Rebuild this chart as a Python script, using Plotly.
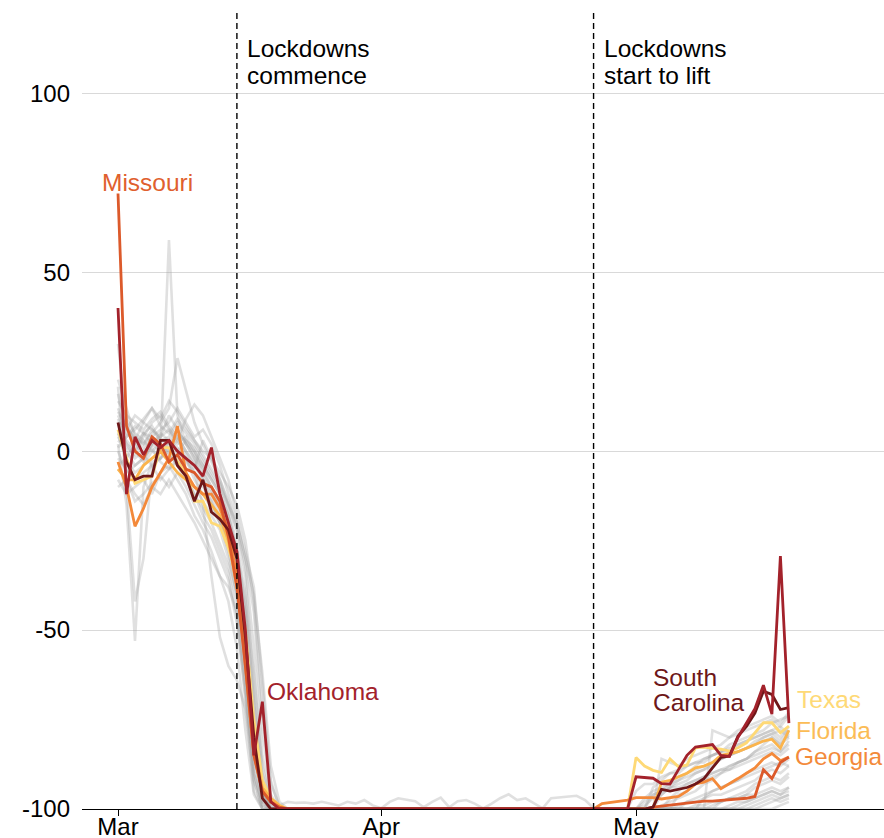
import pandas as pd
import plotly.graph_objects as go

start_date = "2020-03-01"
n_days = 80

tick_dates = ["2020-03-01", "2020-04-01", "2020-05-01"]
tick_labels = ["Mar", "Apr", "May"]
y_ticks = [-100, -50, 0, 50, 100]
y_tick_labels = ["-100", "-50", "0", "50", "100"]

event_dates = ["2020-03-15", "2020-04-26"]
event_labels = [["Lockdowns", "commence"], ["Lockdowns", "start to lift"]]

# ---------------- highlighted states (d0 .. d79, rows of 10 days) ----------------
missouri = [
    72, 7, 0, -2, 4, 2, -3, -1, -5, -6,
    -9, -10, -14, -24, -38, -60, -85, -95, -98, -99.5,
    -100, -100, -100, -100, -100, -100, -100, -100, -100, -100,
    -100, -100, -100, -100, -100, -100, -100, -100, -100, -100,
    -100, -100, -100, -100, -100, -100, -100, -100, -100, -100,
    -100, -100, -100, -100, -100, -100, -100, -100, -100, -100,
    -100, -100, -100, -99.5, -99.2, -99, -98.8, -98.5, -98, -97.8,
    -97.8, -97.6, -97.5, -97.2, -97, -96.5, -89, -91.5, -87, -85.5,
]
oklahoma = [
    40, -12, 4, -1, 3, 1, 3, 0, -2, -4,
    -7, 1, -12, -20, -28, -50, -85, -70, -98, -100,
    -100, -100, -100, -100, -100, -100, -100, -100, -100, -100,
    -100, -100, -100, -100, -100, -100, -100, -100, -100, -100,
    -100, -100, -100, -100, -100, -100, -100, -100, -100, -100,
    -100, -100, -100, -100, -100, -100, -100, -100, -100, -100,
    -100, -91, -91.2, -91.4, -92.9, -93, -89, -85, -82.7, -82.4,
    -82, -85, -85.3, -80, -76, -72, -65.4, -73.5, -29.3, -76,
]
south_carolina = [
    8, -3, -8, -7, -7, 3, 3, -4, -7, -14,
    -8, -17, -19, -22, -30, -52, -80, -97, -100, -100,
    -100, -100, -100, -100, -100, -100, -100, -100, -100, -100,
    -100, -100, -100, -100, -100, -100, -100, -100, -100, -100,
    -100, -100, -100, -100, -100, -100, -100, -100, -100, -100,
    -100, -100, -100, -100, -100, -100, -100, -100, -100, -100,
    -100, -100, -100, -99.5, -94.5, -95, -94.5, -94, -93, -91.5,
    -88.5, -85.6, -85.2, -79.7, -76.9, -73.2, -67.1, -68, -72.2, -71.7,
]
texas = [
    6, -2, -9, -8, -7, 1, 1, -3, -6, -14,
    -14, -20, -21, -27, -35, -50, -75, -92, -97, -99,
    -100, -100, -100, -100, -100, -100, -100, -100, -100, -100,
    -100, -100, -100, -100, -100, -100, -100, -100, -100, -100,
    -100, -100, -100, -100, -100, -100, -100, -100, -100, -100,
    -100, -100, -100, -100, -100, -100, -100, -100, -100, -100,
    -100, -85.6, -88, -89.2, -89.8, -86, -88.2, -87.7, -82.9, -82.7,
    -82.9, -83.3, -83.8, -82.9, -81.5, -78.7, -75.9, -75.9, -78.7, -76.8,
]
florida = [
    -5, -8, -8, -4, -2, 0, -3, -6, -8, -10,
    -12, -15, -18, -25, -38, -58, -82, -94, -97, -99,
    -100, -100, -100, -100, -100, -100, -100, -100, -100, -100,
    -100, -100, -100, -100, -100, -100, -100, -100, -100, -100,
    -100, -100, -100, -100, -100, -100, -100, -100, -100, -100,
    -100, -100, -100, -100, -100, -100, -100, -100, -100, -100,
    -100, -100, -100, -100, -92.5, -92, -91, -90, -88.5, -88,
    -87, -85, -84.5, -84, -83, -82, -81, -80.5, -83, -78,
]
georgia = [
    -3, -10, -21, -16, -10, -6, -2, 7, -6, -10,
    -12, -12, -16, -22, -35, -60, -85, -95, -98, -99.5,
    -100, -100, -100, -100, -100, -100, -100, -100, -100, -100,
    -100, -100, -100, -100, -100, -100, -100, -100, -100, -100,
    -100, -100, -100, -100, -100, -100, -100, -100, -100, -100,
    -100, -100, -100, -100, -100, -100, -100, -98.5, -98.2, -98,
    -97.5, -96.8, -96.8, -96.8, -97.2, -96.8, -96.5, -95, -93, -92.5,
    -91.5, -94.3, -93, -91.5, -90, -88.5, -86, -84.5, -86.5, -85.5,
]

# ---------------- other states (grey) ----------------
grey_01 = [
    12, 5, 3, 8, 6, 4, 10, 6, 2, 0,
    -4, -8, -12, -18, -28, -45, -75, -95, -99, -100,
    -100, -100, -100, -100, -100, -100, -100, -100, -100, -100,
    -100, -100, -100, -100, -100, -100, -100, -100, -100, -100,
    -100, -100, -100, -100, -100, -100, -100, -100, -100, -100,
    -100, -100, -100, -100, -100, -100, -100, -100, -100, -100,
    -100, -100, -97, -95, -94, -93, -92, -90, -89, -88,
    -87, -86, -85, -84, -83, -82, -80, -79, -81, -78,
]
grey_02 = [
    30, 8, 2, 5, 7, 3, 4, 8, 5, 2,
    -2, -6, -10, -15, -22, -35, -65, -90, -98, -100,
    -100, -100, -100, -100, -100, -100, -100, -100, -100, -100,
    -100, -100, -100, -100, -100, -100, -100, -100, -100, -100,
    -100, -100, -100, -100, -100, -100, -100, -100, -100, -100,
    -100, -100, -100, -100, -100, -100, -100, -100, -100, -100,
    -100, -100, -100, -100, -99, -98, -97, -96, -95, -93,
    -92, -90, -89, -87, -86, -84, -82, -80, -82, -80,
]
grey_03 = [
    18, -10, -42, -30, -5, 0, 2, 4, 0, -4,
    -8, -12, -18, -25, -35, -55, -82, -97, -100, -100,
    -100, -100, -100, -100, -100, -100, -100, -100, -100, -100,
    -100, -100, -100, -100, -100, -100, -100, -100, -100, -100,
    -100, -100, -100, -100, -100, -100, -100, -100, -100, -100,
    -100, -100, -100, -100, -100, -100, -100, -100, -100, -100,
    -100, -100, -100, -100, -86, -87, -88, -86, -85, -84,
    -83, -82, -80, -79, -78, -77, -76, -75, -77, -74,
]
grey_04 = [
    2, -15, -53, -10, -3, -2, 1, 0, -3, -6,
    -10, -14, -20, -28, -40, -62, -88, -98, -100, -100,
    -100, -100, -100, -100, -100, -100, -100, -100, -100, -100,
    -100, -100, -100, -100, -100, -100, -100, -100, -100, -100,
    -100, -100, -100, -100, -100, -100, -100, -100, -100, -100,
    -100, -100, -100, -100, -100, -100, -100, -100, -100, -100,
    -100, -100, -100, -100, -100, -100, -100, -100, -100, -100,
    -78, -79, -80, -78, -77, -76, -75, -74, -76, -73,
]
grey_05 = [
    5, 2, -2, 0, 3, 1, 59, 10, 2, -2,
    -5, -10, -14, -20, -30, -50, -80, -96, -100, -100,
    -100, -100, -100, -100, -100, -100, -100, -100, -100, -100,
    -100, -100, -100, -100, -100, -100, -100, -100, -100, -100,
    -100, -100, -100, -100, -100, -100, -100, -100, -100, -100,
    -100, -100, -100, -100, -100, -100, -100, -100, -100, -100,
    -100, -100, -100, -100, -100, -100, -99, -98, -98, -97,
    -96, -96, -95, -94, -93, -92, -90, -89, -90, -88,
]
grey_06 = [
    8, 6, 4, 2, 5, 8, 12, 26, 17, 8,
    2, -3, -8, -14, -22, -32, -55, -85, -97, -100,
    -100, -100, -100, -100, -100, -100, -100, -100, -100, -100,
    -100, -100, -100, -100, -100, -100, -100, -100, -100, -100,
    -100, -100, -100, -100, -100, -100, -100, -100, -100, -100,
    -100, -100, -100, -100, -100, -100, -100, -100, -100, -100,
    -100, -100, -100, -96, -95, -94, -94, -93, -92, -91,
    -90, -89, -89, -88, -87, -86, -85, -84, -85, -83,
]
grey_07 = [
    -2, -5, -8, -6, -4, -2, 0, -4, -8, -12,
    -16, -20, -26, -32, -42, -65, -90, -99, -100, -100,
    -100, -100, -100, -100, -100, -100, -100, -100, -100, -100,
    -100, -100, -100, -100, -100, -100, -100, -100, -100, -100,
    -100, -100, -100, -100, -100, -100, -100, -100, -100, -100,
    -100, -100, -100, -100, -100, -100, -100, -100, -100, -100,
    -100, -100, -100, -100, -100, -100, -100, -100, -100, -100,
    -100, -100, -99, -98, -98, -97, -96, -95, -96, -95,
]
grey_08 = [
    4, 0, -4, -2, 2, 5, 3, 1, -2, -6,
    -15, -35, -52, -60, -64, -72, -92, -100, -100, -100,
    -100, -100, -100, -100, -100, -100, -100, -100, -100, -100,
    -100, -100, -100, -100, -100, -100, -100, -100, -100, -100,
    -100, -100, -100, -100, -100, -100, -100, -100, -100, -100,
    -100, -100, -100, -100, -100, -100, -100, -100, -100, -100,
    -100, -100, -100, -100, -100, -100, -100, -100, -99, -99,
    -98, -98, -97, -97, -96, -96, -95, -94, -95, -94,
]
grey_09 = [
    10, 4, 6, 9, 12, 7, 5, 9, 6, 3,
    0, -2, -6, -10, -15, -25, -42, -72, -93, -99,
    -98, -98.3, -98.2, -98.5, -98, -98.6, -99, -98, -98.5, -97.5,
    -99, -99.8, -98, -97, -97.3, -97.8, -99.5, -98, -96.8, -99.5,
    -97.8, -97.5, -98.5, -99.8, -98.5, -97, -95.9, -97.5, -97, -98.5,
    -99.8, -97, -96.8, -96.5, -96.3, -97.5, -99.8, -100, -100, -100,
    -100, -100, -98, -96, -95, -93, -91, -90, -88, -86,
    -85, -84, -83, -82, -81, -80, -79, -78, -80, -77,
]
grey_10 = [
    -8, -12, -10, -8, -12, -6, -4, -8, -12, -18,
    -22, -28, -35, -38, -45, -70, -95, -100, -100, -100,
    -100, -100, -100, -100, -100, -100, -100, -100, -100, -100,
    -100, -100, -100, -100, -100, -100, -100, -100, -100, -100,
    -100, -100, -100, -100, -100, -100, -100, -100, -100, -100,
    -100, -100, -100, -100, -100, -100, -100, -100, -100, -100,
    -100, -100, -100, -100, -100, -100, -100, -100, -100, -100,
    -100, -100, -100, -100, -100, -100, -99, -98, -97, -96,
]
grey_11 = [
    6, 3, 0, 5, 4, 6, 8, 12, 8, 4,
    6, 2, -4, -12, -20, -30, -45, -78, -96, -100,
    -100, -100, -100, -100, -100, -100, -100, -100, -100, -100,
    -100, -100, -100, -100, -100, -100, -100, -100, -100, -100,
    -100, -100, -100, -100, -100, -100, -100, -100, -100, -100,
    -100, -100, -100, -100, -100, -100, -100, -100, -100, -100,
    -100, -100, -99, -97, -96, -94, -92, -91, -90, -89,
    -88, -86, -85, -84, -83, -82, -81, -80, -82, -79,
]
grey_12 = [
    0, -6, -4, -2, 1, -3, -5, -2, -6, -10,
    -14, -18, -22, -30, -40, -58, -85, -98, -100, -100,
    -100, -100, -100, -100, -100, -100, -100, -100, -100, -100,
    -100, -100, -100, -100, -100, -100, -100, -100, -100, -100,
    -100, -100, -100, -100, -100, -100, -100, -100, -100, -100,
    -100, -100, -100, -100, -100, -100, -100, -100, -100, -100,
    -100, -100, -100, -100, -100, -100, -100, -100, -100, -100,
    -99, -98, -97, -96, -95, -93, -92, -91, -92, -90,
]
grey_13 = [
    14, 10, 8, 6, 9, 11, 7, 4, 0, -3,
    -7, -11, -15, -22, -32, -48, -78, -95, -100, -100,
    -100, -100, -100, -100, -100, -100, -100, -100, -100, -100,
    -100, -100, -100, -100, -100, -100, -100, -100, -100, -100,
    -100, -100, -100, -100, -100, -100, -100, -100, -100, -100,
    -100, -100, -100, -100, -100, -100, -100, -100, -100, -100,
    -100, -100, -100, -100, -100, -97, -95, -93, -92, -91,
    -90, -89, -88, -87, -86, -85, -84, -83, -84, -82,
]
grey_14 = [
    -5, -8, -14, -12, -9, -7, -10, -6, -10, -15,
    -20, -24, -30, -36, -48, -68, -92, -100, -100, -100,
    -100, -100, -100, -100, -100, -100, -100, -100, -100, -100,
    -100, -100, -100, -100, -100, -100, -100, -100, -100, -100,
    -100, -100, -100, -100, -100, -100, -100, -100, -100, -100,
    -100, -100, -100, -100, -100, -100, -100, -100, -100, -100,
    -100, -100, -100, -100, -100, -100, -100, -100, -100, -100,
    -100, -100, -100, -100, -99, -98, -97, -96, -97, -96,
]
grey_15 = [
    20, 12, 4, 2, 6, 3, 2, 5, 3, -1,
    -4, -8, -12, -20, -30, -45, -70, -92, -99, -100,
    -100, -100, -100, -100, -100, -100, -100, -100, -100, -100,
    -100, -100, -100, -100, -100, -100, -100, -100, -100, -100,
    -100, -100, -100, -100, -100, -100, -100, -100, -100, -100,
    -100, -100, -100, -100, -100, -100, -100, -100, -100, -100,
    -100, -95, -93, -93, -91, -90, -90, -88, -87, -87,
    -85, -84, -84, -82, -81, -80, -79, -78, -77, -79,
]
grey_16 = [
    3, 1, -1, 4, 8, 10, 6, 2, 4, 0,
    -6, -10, -16, -24, -36, -55, -82, -97, -100, -100,
    -100, -100, -100, -100, -100, -100, -100, -100, -100, -100,
    -100, -100, -100, -100, -100, -100, -100, -100, -100, -100,
    -100, -100, -100, -100, -100, -100, -100, -100, -100, -100,
    -100, -100, -100, -100, -100, -100, -100, -100, -100, -100,
    -100, -100, -100, -100, -100, -100, -100, -98, -97, -96,
    -95, -94, -93, -92, -91, -90, -89, -88, -87, -88,
]
grey_17 = [
    7, 9, 5, 3, 0, -2, 3, 6, 2, -2,
    -8, -14, -20, -26, -34, -50, -80, -96, -100, -100,
    -100, -100, -100, -100, -100, -100, -100, -100, -100, -100,
    -100, -100, -100, -100, -100, -100, -100, -100, -100, -100,
    -100, -100, -100, -100, -100, -100, -100, -100, -100, -100,
    -100, -100, -100, -100, -100, -100, -100, -100, -100, -100,
    -100, -100, -100, -100, -100, -100, -100, -100, -100, -100,
    -100, -98, -97, -97, -96, -94, -93, -92, -93, -91,
]
grey_18 = [
    -10, -8, -12, -15, -10, -12, -8, -12, -16, -20,
    -25, -30, -35, -42, -55, -78, -96, -100, -100, -100,
    -100, -100, -100, -100, -100, -100, -100, -100, -100, -100,
    -100, -100, -100, -100, -100, -100, -100, -100, -100, -100,
    -100, -100, -100, -100, -100, -100, -100, -100, -100, -100,
    -100, -100, -100, -100, -100, -100, -100, -100, -100, -100,
    -100, -100, -100, -100, -100, -100, -100, -100, -100, -100,
    -100, -100, -100, -100, -100, -100, -100, -100, -99, -98,
]
grey_19 = [
    9, 2, 0, -3, 2, 4, 6, 3, -1, -5,
    3, -2, -8, -15, -20, -30, -40, -62, -88, -98,
    -100, -100, -100, -100, -100, -100, -100, -100, -100, -100,
    -100, -100, -100, -100, -100, -100, -100, -100, -100, -100,
    -100, -100, -100, -100, -100, -100, -100, -100, -100, -100,
    -100, -100, -100, -100, -100, -100, -100, -100, -100, -100,
    -100, -100, -100, -94, -92, -90, -89, -88, -87, -86,
    -85, -84, -82, -81, -80, -79, -78, -76, -75, -74,
]
grey_20 = [
    1, 4, 7, 5, 2, 0, -3, 0, 3, 1,
    -3, -7, -11, -18, -28, -42, -70, -94, -100, -100,
    -100, -100, -100, -100, -100, -100, -100, -100, -100, -100,
    -100, -100, -100, -100, -100, -100, -100, -100, -100, -100,
    -100, -100, -100, -100, -100, -100, -100, -100, -100, -100,
    -100, -100, -100, -100, -100, -100, -100, -100, -100, -100,
    -100, -100, -100, -100, -100, -100, -100, -100, -100, -97,
    -95, -94, -93, -92, -90, -89, -88, -87, -88, -86,
]
grey_21 = [
    16, 6, 10, 8, 12, 9, 14, 11, 7, 3,
    -1, -5, -9, -16, -26, -40, -62, -88, -98, -100,
    -100, -100, -100, -100, -100, -100, -100, -100, -100, -100,
    -100, -100, -100, -100, -100, -100, -100, -100, -100, -100,
    -100, -100, -100, -100, -100, -100, -100, -100, -100, -100,
    -100, -100, -100, -100, -100, -100, -100, -100, -100, -100,
    -100, -100, -100, -100, -96, -94, -93, -92, -90, -89,
    -87, -86, -85, -84, -83, -81, -80, -79, -78, -80,
]
grey_22 = [
    -4, -2, 2, -1, -4, -8, -5, -3, -7, -12,
    -18, -22, -28, -34, -46, -66, -90, -99, -100, -100,
    -100, -100, -100, -100, -100, -100, -100, -100, -100, -100,
    -100, -100, -100, -100, -100, -100, -100, -100, -100, -100,
    -100, -100, -100, -100, -100, -100, -100, -100, -100, -100,
    -100, -100, -100, -100, -100, -100, -100, -100, -100, -100,
    -100, -100, -100, -100, -100, -100, -100, -100, -100, -100,
    -100, -100, -100, -100, -100, -99, -98, -97, -98, -97,
]
grey_23 = [
    11, 7, 3, 1, 4, 2, 0, 3, 9, 13,
    10, 4, -2, -8, -18, -28, -38, -65, -92, -100,
    -100, -100, -100, -100, -100, -100, -100, -100, -100, -100,
    -100, -100, -100, -100, -100, -100, -100, -100, -100, -100,
    -100, -100, -100, -100, -100, -100, -100, -100, -100, -100,
    -100, -100, -100, -100, -100, -100, -100, -100, -100, -100,
    -100, -100, -100, -100, -100, -100, -96, -95, -93, -92,
    -91, -90, -88, -87, -86, -84, -83, -82, -84, -81,
]
grey_24 = [
    5, -3, -6, -4, 0, 2, -1, -4, -2, -8,
    -12, -16, -20, -26, -36, -52, -80, -96, -100, -100,
    -100, -100, -100, -100, -100, -100, -100, -100, -100, -100,
    -100, -100, -100, -100, -100, -100, -100, -100, -100, -100,
    -100, -100, -100, -100, -100, -100, -100, -100, -100, -100,
    -100, -100, -100, -100, -100, -100, -100, -100, -100, -100,
    -100, -100, -100, -100, -100, -100, -100, -100, -100, -100,
    -100, -100, -100, -99, -98, -97, -96, -95, -96, -94,
]

grey_states = [grey_01, grey_02, grey_03, grey_04, grey_05, grey_06, grey_07, grey_08,
               grey_09, grey_10, grey_11, grey_12, grey_13, grey_14, grey_15, grey_16,
               grey_17, grey_18, grey_19, grey_20, grey_21, grey_22, grey_23, grey_24]

highlight_names = ["Texas", "Florida", "Georgia", "Missouri", "South Carolina", "Oklahoma"]
highlight_values = [texas, florida, georgia, missouri, south_carolina, oklahoma]
highlight_colors = ["#fed976", "#fbb44c", "#f3893a", "#dc5a2b", "#6e1719", "#a3222b"]

for s in grey_states + highlight_values:
    assert len(s) == n_days, len(s)

dates = pd.date_range(start_date, periods=n_days, freq="D")
base = pd.Timestamp(start_date)
def day(d):
    return base + pd.Timedelta(days=d)

fig = go.Figure()
for vals in grey_states:
    fig.add_trace(go.Scatter(x=dates, y=vals, mode="lines",
                             line=dict(color="rgba(160,160,160,0.33)", width=2.6),
                             hoverinfo="skip"))
for name, vals, col in zip(highlight_names, highlight_values, highlight_colors):
    fig.add_trace(go.Scatter(x=dates, y=vals, mode="lines", name=name,
                             line=dict(color=col, width=2.8)))

FONT = "Liberation Sans, Arial, Helvetica, sans-serif"

for ed, lines in zip(event_dates, event_labels):
    fig.add_shape(type="line", xref="x", yref="paper", x0=ed, x1=ed, y0=0, y1=1,
                  line=dict(color="black", width=1.4, dash="6px,4px"), layer="above")
    for i, txt in enumerate(lines):
        fig.add_annotation(x=pd.Timestamp(ed) + pd.Timedelta(days=1.0), y=[112.4, 104.9][i],
                           xref="x", yref="y", text=txt, showarrow=False,
                           xanchor="left", yanchor="middle",
                           font=dict(family=FONT, size=24.5, color="black"))

label_specs = [
    ("Missouri", -2.12, 75.0, "#e0602e"),
    ("Oklahoma", 17.3, -67.3, "#a3222b"),
    ("South", 62.8, -63.2, "#6e1719"),
    ("Carolina", 62.8, -70.2, "#6e1719"),
    ("Texas", 79.7, -69.5, "#fed976"),
    ("Florida", 79.6, -78.1, "#fbbc56"),
    ("Georgia", 79.5, -85.3, "#f38a3a"),
]
for txt, dx, yv, col in label_specs:
    fig.add_annotation(x=day(dx), y=yv, xref="x", yref="y", text=txt, showarrow=False,
                       xanchor="left", yanchor="middle",
                       font=dict(family=FONT, size=24.5, color=col))

fig.update_layout(
    width=884, height=838,
    margin=dict(l=82, r=0, t=11, b=29, autoexpand=False),
    plot_bgcolor="white", paper_bgcolor="white",
    showlegend=False,
    font=dict(family=FONT, size=24, color="black"),
    xaxis=dict(range=[day(-4.24), day(90.2)], tickvals=tick_dates, ticktext=tick_labels,
               showgrid=False, zeroline=False, showline=True, linecolor="black", linewidth=1,
               ticks="outside", ticklen=6, tickcolor="black", tickwidth=1,
               ticklabelstandoff=-10, automargin=False,
               layer="below traces", tickfont=dict(size=24, color="black")),
    yaxis=dict(range=[-100, 123], tickvals=y_ticks, ticktext=y_tick_labels,
               showgrid=True, gridcolor="#d9d9d9", gridwidth=1, zeroline=False,
               showline=False, ticks="", ticklabelstandoff=11, automargin=False,
               tickfont=dict(size=24, color="black")),
)

fig.write_html("out.html", config={"displayModeBar": False},
               post_script="document.body.style.margin='0px';document.body.style.overflow='hidden';")
